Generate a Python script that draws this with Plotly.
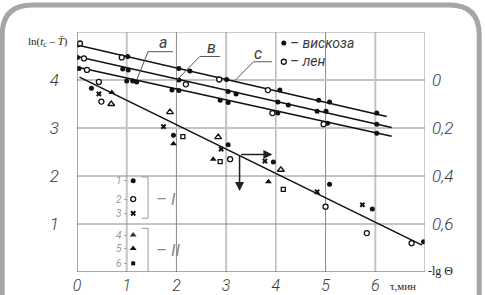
import plotly.graph_objects as go

# ---------------- data ----------------
# upper group: viscose (filled) and linen (open) points on three lines a, в, с
visc_x = [0.01, 1.02, 2.05, 2.27, 3.01, 4.08, 4.86, 5.08, 6.03,
          0.01, 0.92, 1.03, 2.05, 3.04, 3.20, 4.04, 4.25, 4.83, 5.01, 6.03,
          0.04, 1.00, 1.12, 1.20, 1.91, 2.05, 2.88, 3.04, 4.04, 5.04, 6.03]
visc_y = [4.73, 4.49, 4.24, 4.19, 4.01, 3.79, 3.58, 3.54, 3.31,
          4.47, 4.23, 4.21, 4.00, 3.76, 3.71, 3.54, 3.48, 3.35, 3.35, 3.08,
          4.24, 3.98, 3.98, 3.96, 3.79, 3.78, 3.58, 3.53, 3.31, 3.10, 2.89]
linen_x = [0.06, 0.90, 2.86, 3.84, 0.14, 2.19, 0.20, 3.93, 4.96]
linen_y = [4.76, 4.47, 4.01, 3.79, 4.45, 3.91, 4.21, 3.31, 3.08]

# fitted lines (end points)
line_c_x = [0.00, 6.23]
line_c_y = [4.73, 3.24]
line_b_x = [0.00, 6.33]
line_b_y = [4.49, 3.01]
line_a_x = [0.04, 6.33]
line_a_y = [4.26, 2.83]
line_low_x = [0.05, 6.94]
line_low_y = [4.06, 0.56]

# lower group, six series (1..6)
s1_x = [0.29, 1.94, 3.04, 3.95, 5.08, 5.94, 6.97]
s1_y = [3.83, 2.85, 2.65, 2.29, 1.83, 1.31, 0.63]
s2_x = [0.44, 0.49, 3.08, 5.00, 5.83, 6.73]
s2_y = [3.96, 3.55, 2.35, 1.36, 0.81, 0.60]
s3_x = [0.44, 1.74, 2.90, 3.78, 4.83, 5.74]
s3_y = [3.71, 3.03, 2.56, 2.31, 1.67, 1.40]
s4_x = [0.69, 1.87, 2.84, 4.10]
s4_y = [3.50, 3.33, 2.81, 2.13]
s5_x = [0.70, 1.94, 2.74, 3.85]
s5_y = [3.74, 2.67, 2.35, 1.88]
s6_x = [2.13, 2.88, 4.15]
s6_y = [2.82, 2.30, 1.72]

x_ticks = [0, 1, 2, 3, 4, 5, 6]
y_ticks = [1, 2, 3, 4]
lg_ticks = [0, 0.2, 0.4, 0.6]
lg_labels = ["0", "0,2", "0,4", "0,6"]

# ---------------- styling ----------------
NARROW = "Liberation Sans Narrow, Roboto, DejaVu Sans Condensed, sans-serif"
SERIF = "Liberation Serif, DejaVu Serif, serif"
TXT = "#3c3c3c"
W, H = 485, 295
ML, MR, MT, MB = 77, 60, 32, 23


def px2paper(px, py):
    return (px - ML) / (W - ML - MR), (H - MB - py) / (H - MT - MB)


fig = go.Figure()

def line(xs, ys):
    fig.add_trace(go.Scatter(x=xs, y=ys, mode="lines",
                             line=dict(color="#111", width=1.6),
                             showlegend=False, hoverinfo="skip"))

for lx, ly in [(line_c_x, line_c_y), (line_b_x, line_b_y),
               (line_a_x, line_a_y), (line_low_x, line_low_y)]:
    line(lx, ly)

def pts(xs, ys, symbol, size, fill="#111", lw=1.0):
    fig.add_trace(go.Scatter(x=xs, y=ys, mode="markers",
                             marker=dict(symbol=symbol, size=size, color=fill,
                                         line=dict(color="#111", width=lw)),
                             showlegend=False, hoverinfo="skip"))

pts(visc_x, visc_y, "circle", 5, lw=0)
pts(linen_x, linen_y, "circle", 5, fill="white", lw=1.3)
pts(s1_x, s1_y, "circle", 5, lw=0)
pts(s2_x, s2_y, "circle", 5, fill="white", lw=1.3)
pts(s3_x, s3_y, "x", 5, lw=0)
pts(s4_x, s4_y, "triangle-up-open", 6, lw=1.3)
pts(s5_x, s5_y, "triangle-up", 6, lw=0)
pts(s6_x, s6_y, "square-open", 4, lw=1.3)

# legend markers (inside the plot)
pts([4.16], [4.77], "circle", 5, lw=0)
pts([4.16], [4.38], "circle", 5, fill="white", lw=1.3)
leg_syms = [("circle", "#111", 5, 0), ("circle", "white", 5, 1.3), ("x", "#111", 5, 0),
            ("triangle-up", "#333", 6, 0), ("triangle-up", "#111", 6, 0), ("square", "#111", 4, 0)]
leg_y = [1.90, 1.52, 1.22, 0.77, 0.49, 0.18]
for (sym, col, sz, lw), yy in zip(leg_syms, leg_y):
    pts([1.13], [yy], sym, sz, fill=col, lw=lw)

# invisible trace for the right axis
fig.add_trace(go.Scatter(x=[0], y=[0], yaxis="y2", mode="markers",
                         marker=dict(opacity=0), showlegend=False, hoverinfo="skip"))

shapes = []
# gridlines
for gx, col, wd in [(1, "#c4c4c4", 2), (2, "#8a8a8a", 1), (3, "#c4c4c4", 2),
                    (4, "#9a9a9a", 1), (5, "#8a8a8a", 1), (6, "#c4c4c4", 2)]:
    shapes.append(dict(type="line", xref="x", yref="y", x0=gx, x1=gx, y0=0, y1=5,
                       line=dict(color=col, width=wd), layer="below"))
for gy, col, wd in [(1, "#8a8a8a", 1), (2, "#8a8a8a", 1), (3, "#c4c4c4", 2), (4, "#c4c4c4", 2)]:
    shapes.append(dict(type="line", xref="x", yref="y", x0=0, x1=7, y0=gy, y1=gy,
                       line=dict(color=col, width=wd), layer="below"))
# frame
shapes.append(dict(type="line", xref="x", yref="y", x0=0, x1=7, y0=5, y1=5,
                   line=dict(color="#9a9a9a", width=1)))
shapes.append(dict(type="line", xref="x", yref="y", x0=7, x1=7, y0=0, y1=5,
                   line=dict(color="#9a9a9a", width=1)))
shapes.append(dict(type="line", xref="x", yref="y", x0=0, x1=0, y0=0, y1=5,
                   line=dict(color="#555", width=1)))
shapes.append(dict(type="line", xref="x", yref="y", x0=0, x1=7, y0=0, y1=0,
                   line=dict(color="#555", width=1)))

# leader lines for labels a, в, с
for pts_ in [[(1.20, 4.00), (1.43, 4.59), (1.93, 4.59)],
             [(2.01, 4.00), (2.47, 4.49), (2.88, 4.49)],
             [(3.18, 3.99), (3.55, 4.38), (3.92, 4.38)]]:
    path = "M {} {} L {} {} L {} {}".format(*[v for p in pts_ for v in p])
    shapes.append(dict(type="path", xref="x", yref="y", path=path,
                       line=dict(color="#555", width=1)))

# brackets of legend groups
for y_top, y_bot in [(1.98, 1.12), (0.91, 0.0)]:
    path = "M 1.30 {t} L 1.43 {t} L 1.43 {b}".format(t=y_top, b=y_bot)
    if y_bot > 0.05:
        path += " L 1.30 {b}".format(b=y_bot)
    shapes.append(dict(type="path", xref="x", yref="y", path=path,
                       line=dict(color="#999", width=1)))

# rounded card border
lx_, ty_ = px2paper(2.2, 5)
rx_, by_ = px2paper(479.2, 300)
rdx, rdy = 30 / (W - ML - MR), 30 / (H - MT - MB)
card = ("M {L} {B} L {L} {T1} Q {L} {T} {L1} {T} L {R1} {T} Q {R} {T} {R} {T1} L {R} {B}"
        .format(L=lx_, B=by_, T=ty_, T1=ty_ - rdy, L1=lx_ + rdx, R=rx_, R1=rx_ - rdx))
shapes.append(dict(type="path", xref="paper", yref="paper", path=card,
                   line=dict(color="#a6a6a6", width=5)))

ann = []
def text(x, y, s, size, family=NARROW, color=TXT, xanchor="left", italic=True, xref="x", yref="y"):
    ann.append(dict(x=x, y=y, xref=xref, yref=yref, text=s, showarrow=False,
                    xanchor=xanchor, yanchor="middle",
                    font=dict(family=family, size=size, color=color,
                              style="italic" if italic else "normal")))

text(1.73, 4.78, "а", 16, xanchor="center")
text(2.71, 4.68, "в", 16, xanchor="center")
text(3.65, 4.55, "с", 16, xanchor="center")
text(4.24, 4.78, "– вискоза", 14)
text(4.24, 4.39, "– лен", 14)
for n, yy in zip(["1 -", "2 -", "3 -", "4 -", "5 -", "6 -"], leg_y):
    text(1.04, yy, n, 10, color="#9a9a9a", xanchor="right")
text(1.55, 1.52, "– I", 17, color="#8a8a8a")
text(1.55, 0.46, "– II", 17, color="#8a8a8a")

# arrows
ann.append(dict(x=3.93, y=2.45, ax=3.27, ay=2.45, xref="x", yref="y", axref="x", ayref="y",
                showarrow=True, arrowhead=2, arrowsize=1.2, arrowwidth=1.5, arrowcolor="#222", text=""))
ann.append(dict(x=3.27, y=1.69, ax=3.27, ay=2.45, xref="x", yref="y", axref="x", ayref="y",
                showarrow=True, arrowhead=2, arrowsize=1.2, arrowwidth=1.5, arrowcolor="#222", text=""))

# axis titles
ax_, ay_ = px2paper(26, 42)
text(ax_, ay_, "ln(<i>t</i><sub>c</sub> – <i>T̄</i>)", 11, family=SERIF, color="#222",
     italic=False, xref="paper", yref="paper")
ax_, ay_ = px2paper(426, 271)
text(ax_, ay_, "-lg Θ", 12, family=SERIF, color="#222", italic=False, xref="paper", yref="paper")
ax_, ay_ = px2paper(388, 286)
text(ax_, ay_, "τ,мин", 11, family=SERIF, color="#222", italic=False, xref="paper", yref="paper")

tickfont = dict(family=NARROW, size=17, color=TXT, style="italic", weight=300)
xtickfont = dict(family=NARROW, size=16, color=TXT, style="italic", weight=300)
fig.update_layout(
    width=W, height=H,
    margin=dict(l=ML, r=MR, t=MT, b=MB, pad=0, autoexpand=False),
    paper_bgcolor="white", plot_bgcolor="white",
    xaxis=dict(range=[0, 7], tickvals=x_ticks, showgrid=False, zeroline=False, automargin=False,
               showline=False, ticks="", tickfont=xtickfont, ticklabelstandoff=2),
    yaxis=dict(range=[0, 5], tickvals=y_ticks, showgrid=False, zeroline=False, automargin=False,
               showline=False, ticks="", tickfont=tickfont, ticklabelstandoff=17),
    yaxis2=dict(range=[0.8, -0.2], overlaying="y", side="right", tickvals=lg_ticks,
                ticktext=lg_labels, showgrid=False, zeroline=False, showline=False, automargin=False,
                ticks="", tickfont=tickfont, ticklabelstandoff=6),
    shapes=shapes, annotations=ann, showlegend=False,
)

fig.write_html("out.html", config={"displayModeBar": False},
               post_script="document.body.style.margin='0';document.body.style.overflow='hidden';")
